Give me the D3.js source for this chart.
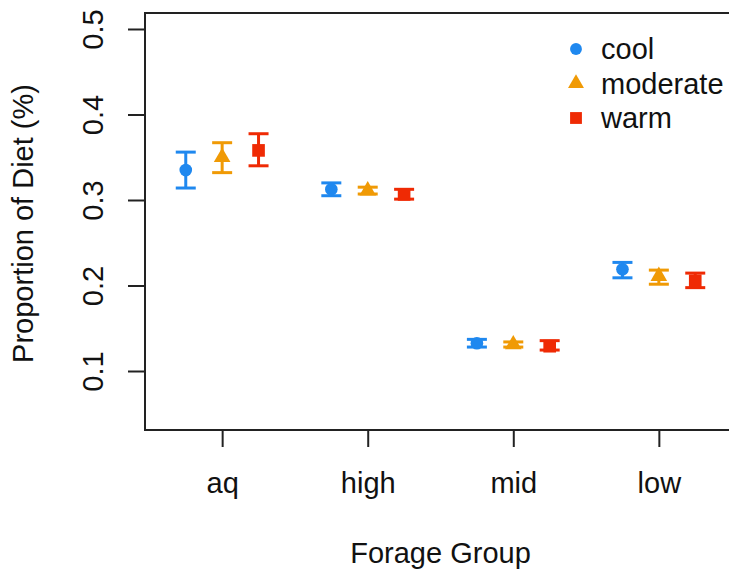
<!DOCTYPE html>
<html>
<head>
<meta charset="utf-8">
<script src="https://cdn.jsdelivr.net/npm/d3@7"></script>
<style>
  html, body { margin: 0; padding: 0; background: #fff; }
  svg { display: block; font-family: "Liberation Sans", Arial, Helvetica, sans-serif; }
</style>
</head>
<body>
<svg id="chart" width="729" height="571"></svg>
<script>
// Forage groups along the x axis and temperature regimes as series
const groups = ["aq", "high", "mid", "low"];
const seriesNames = ["cool", "moderate", "warm"];
const seriesColors = ["#1f88ef", "#f09a05", "#ef2a04"];
const seriesShapes = [d3.symbolCircle, d3.symbolTriangle, d3.symbolSquare];

// Mean proportion of diet and interval bounds, per group
const coolMean = [0.335, 0.3125, 0.1325, 0.219];
const coolLow  = [0.314, 0.305, 0.128, 0.209];
const coolHigh = [0.356, 0.320, 0.137, 0.227];

const moderateMean = [0.350, 0.311, 0.131, 0.211];
const moderateLow  = [0.332, 0.307, 0.128, 0.2015];
const moderateHigh = [0.367, 0.315, 0.134, 0.218];

const warmMean = [0.358, 0.3065, 0.129, 0.2055];
const warmLow  = [0.340, 0.301, 0.1245, 0.1975];
const warmHigh = [0.3775, 0.3125, 0.1355, 0.2145];

const yTicks = [0.1, 0.2, 0.3, 0.4, 0.5];

const means = [coolMean, moderateMean, warmMean];
const lows = [coolLow, moderateLow, warmLow];
const highs = [coolHigh, moderateHigh, warmHigh];
const offsets = [-0.25, 0, 0.25];

const svg = d3.select("#chart");

const x = d3.scaleLinear().domain([0.47, 4.53]).range([145, 736]);
const y = d3.scaleLinear().domain([0.031, 0.5187]).range([430, 13]);

const fontSize = 29;

// Plot frame
svg.append("rect")
  .attr("x", x.range()[0]).attr("y", y.range()[1])
  .attr("width", x.range()[1] - x.range()[0])
  .attr("height", y.range()[0] - y.range()[1])
  .attr("fill", "none").attr("stroke", "#222").attr("stroke-width", 2);

// Y axis
const yAxis = svg.append("g")
  .attr("transform", `translate(${x.range()[0]},0)`)
  .call(d3.axisLeft(y).tickValues(yTicks).tickSize(17).tickPadding(0).tickFormat(d3.format(".1f")));
yAxis.select(".domain").remove();
yAxis.selectAll(".tick line").attr("stroke", "#222").attr("stroke-width", 2);
yAxis.selectAll(".tick text")
  .attr("x", null).attr("dy", null)
  .attr("transform", "translate(-42,0) rotate(-90)")
  .attr("text-anchor", "middle")
  .attr("fill", "#111")
  .style("font-size", fontSize + "px")
  .style("font-family", "Liberation Sans, Arial, sans-serif");

// X axis
const xAxis = svg.append("g")
  .attr("transform", `translate(0,${y.range()[0]})`)
  .call(d3.axisBottom(x).tickValues(d3.range(1, groups.length + 1)).tickSize(17).tickPadding(0)
    .tickFormat(i => groups[i - 1]));
xAxis.select(".domain").remove();
xAxis.selectAll(".tick line").attr("stroke", "#222").attr("stroke-width", 2);
xAxis.selectAll(".tick text")
  .attr("y", 63).attr("dy", null)
  .attr("fill", "#111")
  .style("font-size", fontSize + "px")
  .style("font-family", "Liberation Sans, Arial, sans-serif");

// Axis titles
svg.append("text")
  .attr("x", (x.range()[0] + x.range()[1]) / 2).attr("y", 563)
  .attr("text-anchor", "middle").attr("fill", "#111")
  .style("font-size", fontSize + "px")
  .text("Forage Group");

svg.append("text")
  .attr("transform", `translate(33,${(y.range()[0] + y.range()[1]) / 2 + 2}) rotate(-90)`)
  .attr("text-anchor", "middle").attr("fill", "#111")
  .style("font-size", fontSize + "px")
  .text("Proportion of Diet (%)");

// Error bars and mean markers
const capHalf = 10;
const markerSizes = [125, 120, 160];
seriesNames.forEach((name, s) => {
  const g = svg.append("g").attr("class", "series-" + name);
  const col = seriesColors[s];
  groups.forEach((grp, i) => {
    const cx = x(i + 1 + offsets[s]);
    const yl = y(lows[s][i]), yh = y(highs[s][i]);
    g.append("line").attr("x1", cx).attr("x2", cx).attr("y1", yl).attr("y2", yh)
      .attr("stroke", col).attr("stroke-width", 3);
    [yl, yh].forEach(yy => {
      g.append("line").attr("x1", cx - capHalf).attr("x2", cx + capHalf).attr("y1", yy).attr("y2", yy)
        .attr("stroke", col).attr("stroke-width", 3);
    });
    g.append("path")
      .attr("d", d3.symbol().type(seriesShapes[s]).size(markerSizes[s])())
      .attr("transform", `translate(${cx},${y(means[s][i])})`)
      .attr("fill", col);
  });
});

// Legend
const legendY = [49, 83.5, 118];
const legendSizes = [110, 110, 140];
const legend = svg.append("g");
seriesNames.forEach((name, s) => {
  legend.append("path")
    .attr("d", d3.symbol().type(seriesShapes[s]).size(legendSizes[s])())
    .attr("transform", `translate(576,${legendY[s]})`)
    .attr("fill", seriesColors[s]);
  legend.append("text")
    .attr("x", 601).attr("y", legendY[s]).attr("dy", "0.35em")
    .attr("fill", "#111")
    .style("font-size", fontSize + "px")
    .text(name);
});
</script>
</body>
</html>
